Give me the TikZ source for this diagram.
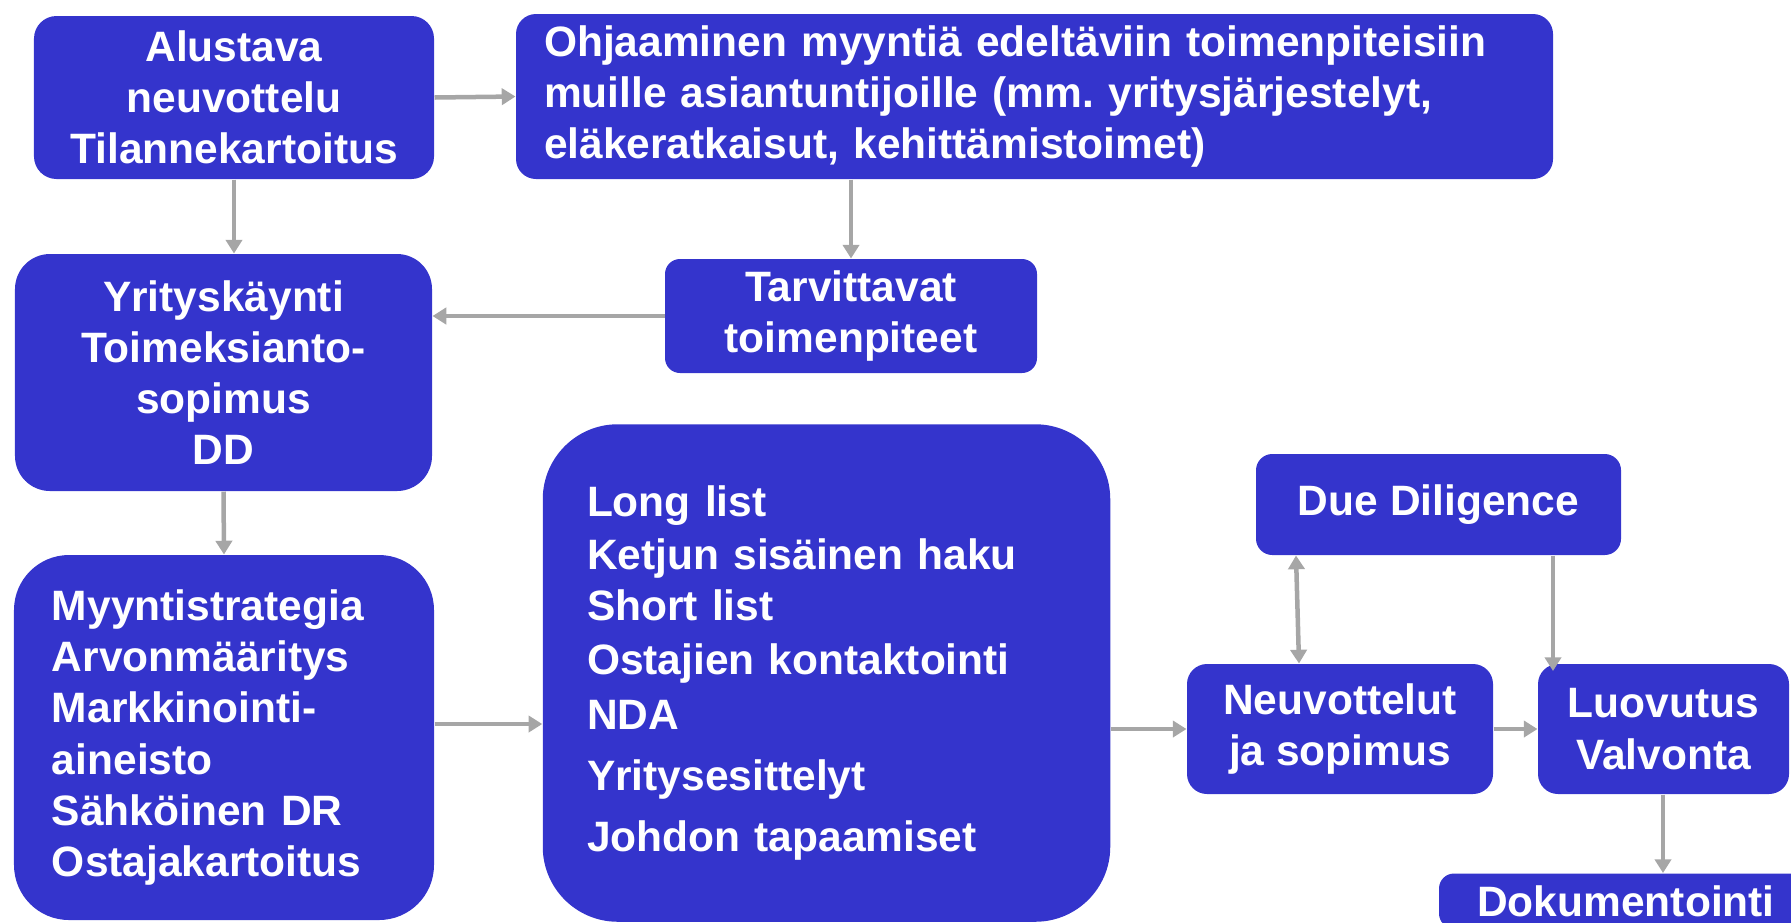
\documentclass[tikz,border=0pt]{standalone}
\usepackage{fontspec}
\setmainfont{Liberation Sans}
\usetikzlibrary{arrows.meta}
\definecolor{boxblue}{RGB}{52,52,204}
\definecolor{arrgray}{RGB}{166,166,166}
\tikzset{
  box/.style={fill=boxblue, draw=none, text=white, inner sep=0pt, align=center,
    font=\fontsize{17}{20.5}\selectfont\bfseries\frenchspacing},
  arr/.style={draw=arrgray, line width=1.8pt, -{Triangle[length=5.5pt,width=6.5pt]}},
  darr/.style={draw=arrgray, line width=1.8pt, {Triangle[length=5.5pt,width=6.5pt]}-{Triangle[length=5.5pt,width=6.5pt]}}
}
\begin{document}
\begin{tikzpicture}[x=0.4pt,y=-0.4pt]
\useasboundingbox (0,0) rectangle (1791,922);
\clip (0,0) rectangle (1791,922);
\node[box, rounded corners=9pt, minimum width=160pt, minimum height=65.2pt] (alu) at (234,97.5)
  {Alustava\\neuvottelu\\Tilannekartoitus};
\node[box, rounded corners=8pt, minimum width=414.8pt, minimum height=66pt, align=left,
  text width=392.4pt, inner xsep=11.2pt] (ohj) at (1034.5,96.5)
  {Ohjaaminen myyntiä edeltäviin toimenpiteisiin\\muille asiantuntijoille (mm. yritysjärjestelyt,\\eläkeratkaisut, kehittämistoimet)};
\node[box, rounded corners=14pt, minimum width=166.8pt, minimum height=94.8pt] (yri) at (223.5,372.5)
  {Yrityskäynti\\Toimeksianto-\\sopimus\\DD};
\node[box, rounded corners=6pt, minimum width=148.8pt, minimum height=45.6pt] (tar) at (851,316)
  {Tarvittavat\\toimenpiteet};
\node[box, rounded corners=22pt, minimum width=168pt, minimum height=146pt, align=left,
  text width=137.6pt, inner xsep=15.2pt] (myy) at (224,737.5)
  {Myyntistrategia\\Arvonmääritys\\Markkinointi-\\aineisto\\Sähköinen DR\\Ostajakartoitus};
\node[box, rounded corners=30pt, minimum width=227pt, minimum height=199pt, align=left,
  text width=191.6pt, inner xsep=17.6pt] (lon) at (826.5,673)
  {Long list\\[0.8pt]Ketjun sisäinen haku\\Short list\\[0.8pt]Ostajien kontaktointi\\[1.6pt]NDA\\[4pt]Yritysesittelyt\\[4pt]Johdon tapaamiset};
\node[box, rounded corners=6.5pt, minimum width=146pt, minimum height=40.4pt] (dd) at (1438.5,504.5)
  {Due Diligence};
\node[box, rounded corners=8pt, minimum width=122.4pt, minimum height=52pt] (neu) at (1340,729)
  {Neuvottelut\\ja sopimus};
\node[box, rounded corners=8pt, minimum width=100.4pt, minimum height=52pt] (luo) at (1663.5,729)
  {Luovutus\\Valvonta};
\node[box, rounded corners=6pt, minimum width=149.6pt, minimum height=22pt] (dok) at (1626,901)
  {Dokumentointi};
% connectors
\draw[arr] (alu.east) -- (ohj.west);
\draw[arr] (alu.south) -- (alu.south |- yri.north);
\draw[arr] (tar.north |- ohj.south) -- (tar.north);
\draw[arr] (tar.west) -- (tar.west -| yri.east);
\draw[arr] (yri.south) -- (myy.north);
\draw[arr] (myy.east |- 0,724) -- (lon.west |- 0,724);
\draw[arr] (lon.east |- neu.west) -- (neu.west);
\draw[arr] (neu.east) -- (luo.west);
\draw[darr] (dd.south -| 1296,0) -- (neu.north -| 1299,0);
\draw[arr, shorten >=-3pt] (dd.south -| 1553,0) -- (luo.north -| 1553,0);
\draw[arr] (luo.south -| 1663,0) -- (dok.north -| 1663,0);
\end{tikzpicture}
\end{document}
